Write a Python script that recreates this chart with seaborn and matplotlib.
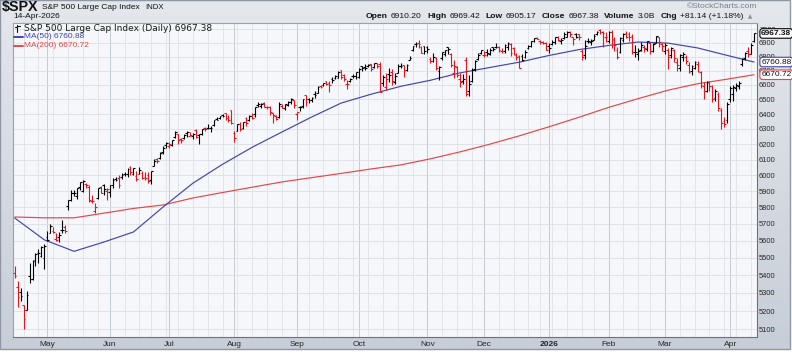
import numpy as np
import pandas as pd
import seaborn as sns
import matplotlib.pyplot as plt
from matplotlib.colors import LinearSegmentedColormap
from matplotlib.lines import Line2D
from matplotlib.patches import Rectangle
from matplotlib.ticker import NullLocator, NullFormatter

# ---- data: $SPX daily bars, 15-Apr-2025 .. 14-Apr-2026 ----
first_session = '2025-04-15'
last_session = '2026-04-14'
holidays = ['2025-04-18', '2025-05-26', '2025-06-19', '2025-07-04', '2025-09-01',
            '2025-11-27', '2025-12-25', '2026-01-01', '2026-01-19', '2026-02-16',
            '2026-04-03']
prior_close = 5405.36

opens = [
    5411, 5335, 5305, 5232, 5207, 5395, 5381, 5489, 5529, 5509, 5499,
    5625, 5646, 5655, 5609, 5622, 5663, 5679, 5808, 5843, 5891, 5869, 5925, 5903, 5945, 5924, 5841, 5781, 5855, 5926, 5939, 5903,
    5897, 5938, 5978, 5985, 5987, 6005, 6010, 6050, 6010, 5997, 6005, 6012, 5986, 6004, 5970, 6062, 6103, 6112, 6151, 6193,
    6187, 6194, 6247, 6264, 6237, 6243, 6271, 6255, 6252, 6296, 6259, 6264, 6308, 6304, 6307, 6326, 6368, 6371, 6397, 6409, 6374, 6428,
    6271, 6288, 6336, 6309, 6375, 6359, 6390, 6398, 6458, 6453, 6478, 6445, 6450, 6406, 6386, 6378, 6457, 6440, 6458, 6485, 6493,
    6401, 6445, 6456, 6529, 6500, 6498, 6539, 6545, 6590, 6601, 6625, 6610, 6640, 6645, 6651, 6701, 6670, 6607, 6629, 6661, 6661,
    6658, 6731, 6722, 6734, 6746, 6727, 6753, 6744, 6610, 6582, 6678, 6690, 6618, 6685, 6736, 6740, 6704, 6776, 6845, 6891, 6900, 6870, 6877,
    6872, 6784, 6768, 6791, 6697, 6787, 6815, 6866, 6817, 6680, 6722, 6641, 6626, 6776, 6556, 6625, 6709, 6783, 6822,
    6812, 6831, 6815, 6866, 6866, 6872, 6843, 6837, 6866, 6889, 6861, 6811, 6806, 6801, 6799, 6862, 6875, 6912, 6935, 6910, 6903, 6899,
    6878, 6887, 6903, 6943, 6915, 6935, 6945, 6975, 6940, 6960, 6960, 6838, 6810, 6915, 6906, 6923, 6965, 6990, 6975, 6945,
    6915, 6980, 6925, 6850, 6830, 6920, 6970, 6960, 6950, 6835, 6820, 6850, 6870, 6855, 6900, 6840, 6900, 6940, 6890,
    6840, 6850, 6810, 6850, 6760, 6720, 6800, 6800, 6740, 6700, 6720, 6750, 6690, 6590, 6560, 6615, 6590, 6510, 6540, 6430, 6350, 6360,
    6500, 6540, 6580, 6590, 6745, 6790, 6840, 6820, 6910.20,
]
highs = [
    5450, 5367, 5328, 5232, 5309, 5469, 5485, 5528, 5554, 5571, 5581,
    5659, 5700, 5683, 5644, 5652, 5721, 5691, 5845, 5907, 5906, 5920, 5958, 5968, 5954, 5939, 5878, 5829, 5922, 5930, 5944, 5922,
    5937, 5981, 5990, 5999, 6017, 6022, 6044, 6059, 6046, 6026, 6051, 6024, 6018, 6018, 6026, 6101, 6108, 6146, 6187, 6215,
    6211, 6227, 6284, 6265, 6243, 6269, 6290, 6279, 6272, 6302, 6268, 6300, 6315, 6336, 6317, 6360, 6381, 6390, 6401, 6410, 6393, 6428,
    6288, 6330, 6344, 6348, 6379, 6395, 6410, 6446, 6481, 6474, 6481, 6457, 6456, 6407, 6394, 6479, 6467, 6468, 6487, 6508, 6495,
    6417, 6452, 6503, 6533, 6508, 6513, 6555, 6592, 6601, 6616, 6627, 6624, 6656, 6671, 6695, 6702, 6673, 6637, 6650, 6676, 6688,
    6715, 6733, 6750, 6745, 6749, 6755, 6754, 6764, 6666, 6685, 6720, 6712, 6680, 6744, 6752, 6741, 6746, 6807, 6876, 6902, 6921, 6873, 6879,
    6878, 6797, 6822, 6798, 6732, 6832, 6848, 6869, 6823, 6775, 6736, 6682, 6673, 6796, 6671, 6717, 6777, 6823, 6849,
    6843, 6851, 6862, 6867, 6896, 6875, 6864, 6894, 6903, 6895, 6866, 6827, 6811, 6819, 6845, 6880, 6910, 6937, 6945, 6920, 6916, 6903,
    6895, 6922, 6945, 6951, 6935, 6978, 6986, 6986, 6945, 6970, 6967, 6856, 6919, 6933, 6925, 6960, 6985, 7002, 6985, 6975,
    6985, 6993, 6940, 6870, 6940, 6970, 6985, 6975, 6960, 6880, 6865, 6905, 6880, 6915, 6905, 6895, 6950, 6945, 6895,
    6895, 6860, 6870, 6855, 6790, 6820, 6830, 6810, 6760, 6740, 6770, 6765, 6700, 6620, 6630, 6625, 6600, 6570, 6550, 6440, 6380, 6480,
    6590, 6600, 6615, 6625, 6790, 6835, 6870, 6895, 6969.42,
]
lows = [
    5387, 5220, 5255, 5101, 5207, 5356, 5371, 5455, 5468, 5506, 5433,
    5597, 5646, 5644, 5597, 5590, 5644, 5644, 5787, 5837, 5868, 5850, 5910, 5896, 5917, 5831, 5829, 5767, 5853, 5887, 5874, 5843,
    5862, 5922, 5966, 5921, 5978, 5995, 5992, 6003, 6004, 5963, 6005, 5978, 5971, 5952, 5944, 6058, 6081, 6107, 6133, 6174,
    6178, 6188, 6240, 6201, 6210, 6235, 6249, 6251, 6236, 6241, 6201, 6262, 6286, 6303, 6282, 6317, 6360, 6368, 6380, 6361, 6346, 6331,
    6212, 6288, 6286, 6302, 6317, 6355, 6364, 6377, 6450, 6441, 6446, 6437, 6397, 6343, 6361, 6375, 6438, 6430, 6452, 6466, 6444,
    6361, 6418, 6444, 6455, 6477, 6484, 6507, 6545, 6577, 6595, 6598, 6551, 6613, 6641, 6648, 6642, 6624, 6569, 6619, 6647, 6644,
    6651, 6699, 6706, 6725, 6700, 6718, 6718, 6550, 6589, 6565, 6620, 6600, 6604, 6684, 6717, 6654, 6700, 6775, 6840, 6869, 6859, 6822, 6816,
    6826, 6754, 6759, 6707, 6631, 6772, 6805, 6821, 6725, 6646, 6652, 6585, 6605, 6521, 6522, 6620, 6697, 6778, 6818,
    6800, 6801, 6810, 6838, 6858, 6834, 6829, 6823, 6846, 6801, 6808, 6775, 6720, 6766, 6791, 6856, 6866, 6905, 6924, 6888, 6893, 6845,
    6826, 6880, 6891, 6915, 6890, 6930, 6940, 6940, 6880, 6935, 6921, 6775, 6782, 6900, 6880, 6920, 6958, 6965, 6870, 6905,
    6900, 6860, 6840, 6780, 6825, 6905, 6935, 6910, 6820, 6795, 6775, 6840, 6835, 6840, 6820, 6830, 6895, 6870, 6840,
    6820, 6710, 6790, 6760, 6700, 6700, 6770, 6750, 6680, 6670, 6710, 6690, 6580, 6500, 6550, 6560, 6480, 6490, 6420, 6300, 6310, 6340,
    6480, 6490, 6560, 6570, 6735, 6775, 6800, 6815, 6905.17,
]
closes = [
    5396, 5275, 5283, 5158, 5287, 5376, 5484, 5525, 5528, 5561, 5569,
    5604, 5686, 5650, 5607, 5631, 5664, 5660, 5844, 5886, 5892, 5917, 5958, 5964, 5940, 5845, 5842, 5802, 5922, 5889, 5912, 5911.7,
    5936, 5970, 5971, 5939, 6000, 6006, 6038, 6022, 6045, 5977, 6033, 5982, 5981, 5967, 6025, 6092.2, 6092.1, 6141, 6173, 6205,
    6198, 6227, 6279, 6230, 6226, 6263, 6280, 6259, 6269, 6244, 6264, 6297.4, 6296.8, 6306, 6309, 6359, 6363, 6389, 6390, 6371, 6362, 6339,
    6238, 6330, 6299, 6345, 6340, 6389, 6374, 6446, 6466, 6469, 6450, 6449, 6411, 6396, 6370, 6467, 6439, 6466, 6481, 6502, 6460,
    6416, 6448, 6502, 6482, 6495, 6512, 6532, 6587, 6584, 6615, 6606, 6600, 6631, 6664, 6693, 6657, 6638, 6605, 6644, 6661, 6688,
    6711, 6715, 6716, 6740, 6714, 6753, 6735, 6553, 6654, 6644, 6671, 6630, 6664, 6735.1, 6735.4, 6699, 6738, 6792, 6875, 6891.0, 6890.6, 6822, 6840,
    6852, 6771, 6796, 6720, 6728, 6832, 6846, 6851, 6738, 6734, 6672, 6617, 6642, 6538, 6603, 6705, 6766, 6813, 6849,
    6812, 6829, 6850, 6857, 6870, 6846, 6840, 6886, 6901, 6827, 6816, 6800, 6721, 6775, 6834, 6878, 6910, 6932, 6930, 6905, 6896, 6845,
    6858, 6902, 6945, 6921, 6921.5, 6966, 6977, 6963, 6926, 6944, 6940, 6797, 6876, 6913, 6916, 6950, 6979, 6978, 6969, 6939,
    6976, 6917, 6883, 6798, 6932, 6965, 6942, 6941, 6833, 6836, 6843, 6881, 6861, 6910, 6837, 6890, 6946, 6908, 6879,
    6881, 6800, 6860, 6790, 6740, 6810, 6815, 6770, 6690, 6730, 6760, 6700, 6600, 6560, 6620, 6590, 6500, 6560, 6440, 6340, 6330, 6470,
    6575, 6585, 6600, 6616, 6782, 6828, 6816, 6886.24, 6967.38,
]

# moving averages, one value every 10 sessions plus the last one
ma_every = 10
ma50 = [5736, 5605, 5538, 5592, 5652, 5803, 5950, 6070, 6180, 6280, 6380, 6475, 6535,
        6590, 6632, 6684, 6722, 6760, 6808, 6850, 6880, 6905, 6897, 6862, 6808, 6760.88]
ma200 = [5742, 5737, 5737, 5765, 5794, 5815, 5858, 5892, 5925, 5958, 5985, 6012, 6040,
         6066, 6105, 6150, 6200, 6255, 6315, 6378, 6445, 6505, 6563, 6608, 6640, 6670.72]

yticks = list(range(5100, 7001, 100))

# ---- style ----
sns.set_theme(style='white')
plt.rcParams['font.family'] = ['Liberation Sans', 'DejaVu Sans']

W, H = 792, 360
fig = plt.figure(figsize=(W / 100, H / 100), dpi=100, facecolor='white')


def fx(px):
    return px / W


def fy(py):
    return 1 - py / H


# outer panel with a soft vertical gradient
bg = fig.add_axes([0, fy(349), fx(790), 349 / H])
grad = np.linspace(0, 1, 256)[:, None]
bg.imshow(grad, aspect='auto', extent=[0, 1, 0, 1],
          cmap=LinearSegmentedColormap.from_list('bg', ['#e4e7ec', '#c8ced8']))
bg.set_axis_off()
bg.add_patch(Rectangle((0, 0), 1, 1, transform=bg.transAxes, fill=False,
                       ec='#8f97a3', lw=1.0, clip_on=False))

ax = fig.add_axes([fx(13), fy(337.3), fx(757 - 13), (337.3 - 22.7) / H])
ax.set_facecolor('#f6f7fa')

# ---- trading calendar ----
dates = pd.bdate_range(first_session, last_session)
dates = dates[~dates.isin(pd.to_datetime(holidays))]
n = len(closes)
pos = np.arange(n)

month_pos = [i for i in range(n) if i == 0 or dates[i].month != dates[i - 1].month][1:]
week_pos = [i for i in range(1, n) if dates[i].weekday() < dates[i - 1].weekday()
            or (dates[i] - dates[i - 1]).days > 3]
month_lbl = [str(dates[i].year) if dates[i].month == 1 else dates[i].strftime('%b')
             for i in month_pos]

# ---- OHLC bars ----
prev = np.r_[prior_close, closes[:-1]]
cols = np.where(np.array(closes) >= prev, '#000000', '#e8141c')
ax.vlines(pos, lows, highs, colors=cols, lw=0.8, zorder=3)
ax.hlines(opens, pos - 0.6, pos, colors=cols, lw=0.8, zorder=3)
ax.hlines(closes, pos, pos + 0.6, colors=cols, lw=0.8, zorder=3)

# ---- moving averages ----
ma_pos = np.r_[np.arange(0, n, ma_every), n - 1]
sns.lineplot(x=ma_pos, y=ma200, ax=ax, color='#e24848', lw=0.85, zorder=2)
sns.lineplot(x=ma_pos, y=ma50, ax=ax, color='#4444b0', lw=0.85, zorder=2)

# ---- axes ----
ax.set_yscale('log')
ax.set_ylim(5058, 7047)
ax.set_xlim(-0.57, n)
ax.yaxis.set_minor_locator(NullLocator())
ax.yaxis.set_minor_formatter(NullFormatter())
ax.set_yticks(yticks)
ax.set_yticklabels([str(t) for t in yticks])
ax.yaxis.tick_right()
ax.set_xticks(month_pos)
ax.set_xticklabels(month_lbl)
ax.set_xticks(week_pos, minor=True)
ax.tick_params(axis='y', which='both', length=0, pad=1.5, labelsize=5.4, labelcolor='#262626')
ax.tick_params(axis='x', which='both', length=0, pad=3, labelsize=6, labelcolor='#262626')
for lbl in ax.get_xticklabels():
    if lbl.get_text() == '2026':
        lbl.set_fontweight('bold')
ax.set_xlabel('')
ax.set_ylabel('')

ax.grid(axis='y', which='major', color='#dcdfe5', lw=0.6)
ax.grid(axis='x', which='minor', color='#e0e2e8', lw=0.6)
ax.grid(axis='x', which='major', color='#c5c9d1', lw=0.7)
ax.set_axisbelow(True)

for side in ['left', 'top']:
    ax.spines[side].set_color('#9aa1ac')
    ax.spines[side].set_linewidth(0.8)
for side in ['right', 'bottom']:
    ax.spines[side].set_color('#6c727c')
    ax.spines[side].set_linewidth(0.8)
    ax.spines[side].set_linestyle((0, (1, 1)))

# ---- value tags on the right (they sit over the axis labels, as in the original) ----
tags = [(closes[-1], '#000000', 'bold'), (ma50[-1], '#4444b0', 'normal'),
        (ma200[-1], '#e24848', 'normal')]
for val, ec, wt in tags:
    ax.annotate(f'{val:.2f}', xy=(1, val), xycoords=ax.get_yaxis_transform(),
                xytext=(3, 0), textcoords='offset points', ha='left', va='center',
                fontsize=6, fontweight=wt, color='#111111', annotation_clip=False,
                bbox=dict(boxstyle='round,pad=0.15,rounding_size=0.3', fc='white', ec=ec, lw=0.8),
                zorder=10)

# ---- in-plot legend ----
fig.add_artist(Line2D([fx(17), fx(17)], [fy(24.5), fy(31.5)], color='#111', lw=0.8))
fig.add_artist(Line2D([fx(15), fx(17)], [fy(26.5), fy(26.5)], color='#111', lw=0.8))
fig.add_artist(Line2D([fx(17), fx(19.5)], [fy(25.5), fy(25.5)], color='#111', lw=0.8))
fig.text(fx(24), fy(28.5), f'S&P 500 Large Cap Index (Daily) {closes[-1]:.2f}',
         family='DejaVu Sans', fontsize=6.5, va='center', color='#1a1a1a')
fig.add_artist(Line2D([fx(14), fx(23)], [fy(37), fy(37)], color='#4444b0', lw=1.4))
fig.text(fx(23.5), fy(37), f'MA(50) {ma50[-1]:.2f}', fontsize=6, va='center', color='#4444b0')
fig.add_artist(Line2D([fx(14), fx(23)], [fy(45.7), fy(45.7)], color='#e24848', lw=1.4))
fig.text(fx(23.5), fy(45.7), f'MA(200) {ma200[-1]:.2f}', fontsize=6, va='center', color='#e24848')

# ---- header ----
fig.text(fx(2), fy(7), '$SPX', fontsize=10.3, fontweight='bold', va='center', color='#111')
fig.text(fx(42), fy(7.5), 'S&P 500 Large Cap Index', fontsize=6.0, va='center', color='#111')
fig.text(fx(145), fy(7.5), 'INDX', fontsize=5.6, va='center', color='#111')
fig.text(fx(13.5), fy(17), '14-Apr-2026', fontsize=6, va='center', color='#111')
fig.text(fx(757), fy(7), '\u00a9StockCharts.com', fontsize=6, va='center', ha='right', color='#7b7f86')

chg = closes[-1] - closes[-2]
parts = [('Open', 'bold'), (f'{opens[-1]:.2f}', 'normal'),
         ('High', 'bold'), (f'{highs[-1]:.2f}', 'normal'),
         ('Low', 'bold'), (f'{lows[-1]:.2f}', 'normal'),
         ('Close', 'bold'), (f'{closes[-1]:.2f}', 'normal'),
         ('Volume', 'bold'), ('3.0B', 'normal'),
         ('Chg', 'bold'), (f'+{chg:.2f} (+{chg / closes[-2] * 100:.2f}%)', 'normal')]
renderer = fig.canvas.get_renderer()
xcur = 366
for k, (s, wt) in enumerate(parts):
    t = fig.text(fx(xcur), fy(17), s, fontsize=6.1, fontweight=wt, va='center', color='#111')
    bb = t.get_window_extent(renderer)
    xcur = bb.x1 + (3 if wt == 'bold' else 5.5)
fig.text(fx(xcur - 1), fy(17), '\u25b2', family=['DejaVu Sans'], fontsize=4, va='center', color='#8a8f96')

fig.savefig('out.png', dpi=100, facecolor='white')
